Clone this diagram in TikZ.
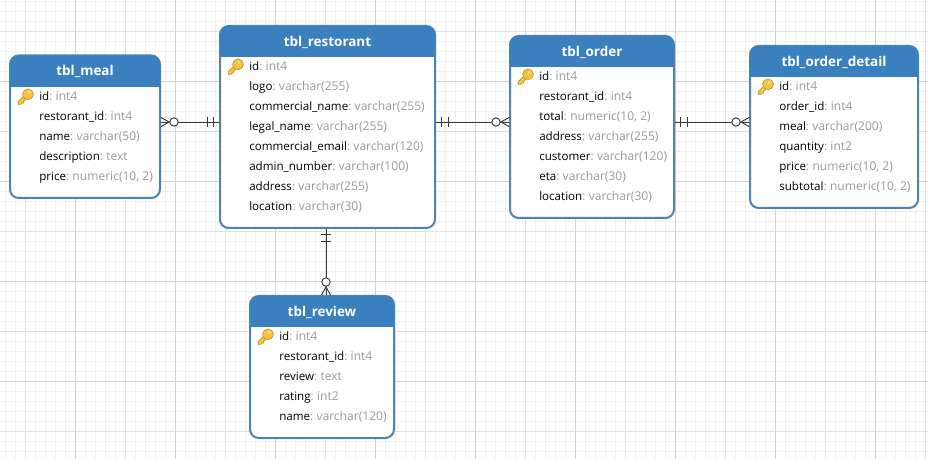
\documentclass[tikz,border=0pt]{standalone}
\usepackage{fontspec}
\setmainfont{Open Sans}
\usetikzlibrary{calc}
\definecolor{minorgrid}{HTML}{F1F1F1}
\definecolor{majorgrid}{HTML}{E0E0E0}
\definecolor{hundredgrid}{HTML}{D2D2D2}
\definecolor{headblue}{HTML}{3A80BF}
\definecolor{edgeblue}{HTML}{4A84B6}
\definecolor{typegrey}{HTML}{9A9A9A}
\definecolor{linkdark}{HTML}{3A3A3A}
\definecolor{keygold}{HTML}{F6C445}
\definecolor{keyedge}{HTML}{C9961E}
\tikzset{
  x=0.75pt,y=-0.75pt,
  minorline/.style={minorgrid,line width=0.75pt},
  majorline/.style={majorgrid,line width=0.75pt},
  hundredline/.style={hundredgrid,line width=0.75pt},
  entitybox/.style={draw=edgeblue,fill=white,line width=1.5pt,rounded corners=6.5pt,inner sep=0pt},
  headbar/.style={fill=headblue},
  titletext/.style={text=white,font=\fontsize{10.1}{12}\selectfont\bfseries,inner sep=0pt},
  rowtext/.style={anchor=west,inner sep=0pt,font=\fontsize{8.7}{10}\selectfont,text height=7pt,text depth=2pt},
  link/.style={linkdark,line width=0.72pt},
  tick/.style={linkdark,line width=0.72pt},
  goldkey/.pic={
    \draw[keyedge,fill=keygold,line width=0.5pt,line join=round]
      (1.7,-3.3) -- (-6.8,5.2) -- (-6.8,7.8) -- (-4.2,7.8) -- (-3,6.6) -- (-1.5,6.6) -- (-1.5,5.1) -- (4.3,-0.7) -- cycle;
    \draw[keyedge,fill=keygold,line width=0.5pt] (3,-2.2) circle (5.4);
    \fill[white!60!keygold] (4.2,-4) circle (1.3);
  },
  onlyone/.pic={
    \draw[tick] (5.5,-5) -- (5.5,5);
    \draw[tick] (12,-5) -- (12,5);
  },
  zeromany/.pic={
    \draw[tick] (0,-4.5) -- (8,0) -- (0,4.5);
    \draw[tick,fill=white] (13,0) circle (4.2);
  },
}
\newcommand{\entity}[8]{%
  \pgfmathsetmacro{\cx}{(#2+#4)/2}
  \pgfmathsetmacro{\cy}{(#3+#5)/2}
  \pgfmathsetmacro{\boxw}{(#4-#2)*0.75}
  \pgfmathsetmacro{\boxh}{(#5-#3)*0.75}
  \pgfmathsetmacro{\tx}{(#3+#6)/2+0.7}
  \pgfmathsetmacro{\rx}{#2+29}
  \pgfmathsetmacro{\kx}{#2+15}
  \pgfmathsetmacro{\ky}{#6+9.5}
  \node[entitybox,minimum width=\boxw pt,minimum height=\boxh pt] (#1) at (\cx,\cy) {};
  \fill[headbar] (#2,#6) [rounded corners=6.5pt] -- (#2,#3) -- (#4,#3) [sharp corners] -- (#4,#6) -- cycle;
  \node[titletext] (#1-title) at (\cx,\tx) {#7};
  \pic at (\kx,\ky) {goldkey};
  \foreach \n/\tp [count=\i] in {#8} {
    \pgfmathsetmacro{\ry}{#6+10+(\i-1)*20}
    \node[rowtext] (#1-row-\i) at (\rx,\ry) {\n\textcolor{typegrey}{:\hspace{2.5pt}\fontsize{9.05}{10}\selectfont\tp}};
  }
}
\begin{document}
\begin{tikzpicture}
\useasboundingbox (0,0) rectangle (928,459);
\fill[white] (0,0) rectangle (928,459);
\foreach \v in {5,15,...,925} \draw[minorline] (\v,0) -- (\v,459);
\foreach \v in {1.5,11.5,...,452} \draw[minorline] (0,\v) -- (928,\v);
\foreach \v in {25,125,...,925} \draw[majorline] (\v,0) -- (\v,459);
\foreach \v in {31.5,131.5,...,432} \draw[majorline] (0,\v) -- (928,\v);
\foreach \v in {75,175,...,925} \draw[hundredline] (\v,0) -- (\v,459);
\foreach \v in {81.5,181.5,...,432} \draw[hundredline] (0,\v) -- (928,\v);

\entity{meal}{10}{55.5}{160}{198}{87}{tbl\_meal}{id/int4,restorant\_id/int4,name/varchar(50),description/text,price/{numeric(10, 2)}}
\entity{rest}{220}{26}{435}{228}{57}{tbl\_restorant}{id/int4,logo/varchar(255),commercial\_name/varchar(255),legal\_name/varchar(255),commercial\_email/varchar(120),admin\_number/varchar(100),address/varchar(255),location/varchar(30)}
\entity{order}{510}{36}{674}{218}{67}{tbl\_order}{id/int4,restorant\_id/int4,total/{numeric(10, 2)},address/varchar(255),customer/varchar(120),eta/varchar(30),location/varchar(30)}
\entity{detail}{750}{46}{918}{208}{77}{tbl\_order\_detail}{id/int4,order\_id/int4,meal/varchar(200),quantity/int2,price/{numeric(10, 2)},subtotal/{numeric(10, 2)}}
\entity{review}{250}{296}{394}{438}{327}{tbl\_review}{id/int4,restorant\_id/int4,review/text,rating/int2,name/varchar(120)}

\coordinate (levelA) at (0,122);
\coordinate (levelB) at (326,0);
\draw[link] (meal.east |- levelA) -- (rest.west |- levelA);
\draw[link] (rest.east |- levelA) -- (order.west |- levelA);
\draw[link] (order.east |- levelA) -- (detail.west |- levelA);
\draw[link] (rest.south -| levelB) -- (review.north -| levelB);
\pic at (meal.east |- levelA) {zeromany};
\pic[rotate=180] at (rest.west |- levelA) {onlyone};
\pic at (rest.east |- levelA) {onlyone};
\pic[rotate=180] at (order.west |- levelA) {zeromany};
\pic at (order.east |- levelA) {onlyone};
\pic[rotate=180] at (detail.west |- levelA) {zeromany};
\pic[rotate=-90] at (rest.south -| levelB) {onlyone};
\pic[rotate=90] at (review.north -| levelB) {zeromany};
\end{tikzpicture}
\end{document}
